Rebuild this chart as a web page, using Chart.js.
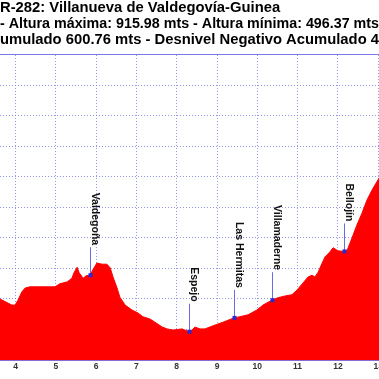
<!DOCTYPE html>
<html>
<head>
<meta charset="utf-8">
<script src="https://cdn.jsdelivr.net/npm/chart.js@4/dist/chart.umd.min.js"></script>
<style>
  html, body { margin: 0; padding: 0; background: #ffffff; overflow: hidden; }
  #wrap { position: relative; width: 379px; height: 379px; }
</style>
</head>
<body>
<div id="wrap"><canvas id="c"></canvas></div>
<script>
// ---- Data ----
const titleLines = [
  'R-282: Villanueva de Valdegovía-Guinea',
  '- Altura máxima: 915.98 mts - Altura mínima: 496.37 mts',
  'umulado 600.76 mts - Desnivel Negativo Acumulado 4'
];
const distanceKm = [3.615, 3.91, 3.99, 4.06, 4.16, 4.24, 4.36, 4.53, 4.86, 4.98,
  5.10, 5.28, 5.40, 5.45, 5.53, 5.58, 5.68, 5.75, 5.85, 5.92,
  6.02, 6.15, 6.27, 6.35, 6.42, 6.52, 6.59, 6.72, 6.89, 7.04,
  7.16, 7.34, 7.46, 7.64, 7.76, 7.91, 8.13, 8.31, 8.38, 8.45,
  8.58, 8.70, 8.90, 9.15, 9.42, 9.57, 9.77, 9.99, 10.14, 10.36,
  10.51, 10.69, 10.86, 10.99, 11.13, 11.26, 11.36, 11.43, 11.51, 11.61,
  11.68, 11.80, 11.88, 12.00, 12.15, 12.23, 12.35, 12.47, 12.60, 12.72,
  12.85, 13.02];
const altitudeM = [550, 540, 540, 548, 562, 568, 570, 570, 570, 570,
  575, 578, 584, 593, 602, 593, 584, 588, 589, 598,
  609, 607, 607, 601, 586, 568, 553, 540, 532, 527,
  521, 517, 512, 504, 501, 499, 501, 496.4, 499, 504,
  501, 501, 506, 512, 519, 521, 524, 532, 540, 548,
  552, 555, 557, 565, 576, 586, 589, 586, 594, 609,
  619, 627, 634, 629, 628, 630, 650, 671, 691, 712,
  729, 748];
const waypointNames = ['Valdegoña', 'Espejo', 'Las Hermitas', 'Villamaderne', 'Bellojín'];
const waypointKm    = [5.85, 8.31, 9.42, 10.36, 12.15];
const waypointAlt   = [589, 496.4, 519, 548, 628];
const xRange = [3.615, 13.02];
const yRange = [450, 950];
const yStep = 50;
const xStep = 1;

const points = distanceKm.map((d, i) => ({ x: d, y: altitudeM[i] }));

const waypointPlugin = {
  id: 'waypoints',
  afterDraw(chart) {
    const ctx = chart.ctx;
    const xs = chart.scales.x, ys = chart.scales.y;
    ctx.save();
    waypointNames.forEach((name, i) => {
      const px = Math.round(xs.getPixelForValue(waypointKm[i])) + 0.5;
      const py = ys.getPixelForValue(waypointAlt[i]);
      const lineTop = py - 28;
      ctx.strokeStyle = '#6a6ae6';
      ctx.lineWidth = 1;
      ctx.beginPath();
      ctx.moveTo(px, py);
      ctx.lineTo(px, lineTop);
      ctx.stroke();
      ctx.fillStyle = '#2a2ad0';
      ctx.fillRect(px - 2, py - 2, 4, 4);
      ctx.save();
      ctx.translate(px + 1, lineTop - 2);
      ctx.rotate(Math.PI / 2);
      ctx.font = 'bold 10.5px "Liberation Sans", Arial, sans-serif';
      ctx.fillStyle = '#111111';
      ctx.textAlign = 'right';
      ctx.textBaseline = 'alphabetic';
      ctx.fillText(name, 0, 0);
      ctx.restore();
    });
    ctx.restore();
  }
};

const gridColor = 'rgba(120,120,225,0.8)';

new Chart(document.getElementById('c'), {
  type: 'line',
  data: {
    datasets: [{
      data: points,
      borderColor: '#ff0000',
      backgroundColor: '#ff0000',
      borderWidth: 1,
      pointRadius: 0,
      fill: 'start',
      tension: 0
    }]
  },
  options: {
    responsive: true,
    maintainAspectRatio: false,
    animation: false,
    events: [],
    layout: { padding: 0 },
    plugins: {
      legend: { display: false },
      tooltip: { enabled: false },
      title: {
        display: true,
        text: titleLines,
        align: 'start',
        color: '#000000',
        font: { family: '"Liberation Sans", Arial, sans-serif', size: 14.8, weight: 'bold', lineHeight: 1.08 },
        padding: { top: 0, bottom: 7 }
      }
    },
    scales: {
      x: {
        type: 'linear',
        min: xRange[0],
        max: xRange[1],
        z: 1,
        grid: { display: true, color: gridColor, lineWidth: 1, drawTicks: false },
        border: { display: true, color: '#8a6ad0', width: 1, dash: [1, 2] },
        ticks: {
          stepSize: xStep,
          includeBounds: false,
          autoSkip: false,
          maxRotation: 0,
          padding: 2,
          color: '#333333',
          font: { family: '"Liberation Sans", Arial, sans-serif', size: 8.5, weight: 'bold' },
          callback: v => Number.isInteger(v) ? String(v) : ''
        },
        afterFit(s) { s.height = 19; s.paddingLeft = 0; s.paddingRight = 0; }
      },
      xTop: {
        type: 'linear',
        position: 'top',
        min: xRange[0],
        max: xRange[1],
        grid: { display: false, drawTicks: false },
        border: { display: true, color: '#7a7ae6', width: 1 },
        ticks: { display: false },
        afterFit(s) { s.height = 0; s.paddingLeft = 0; s.paddingRight = 0; }
      },
      y: {
        type: 'linear',
        min: yRange[0],
        max: yRange[1],
        z: 1,
        grid: { display: true, color: gridColor, lineWidth: 1, drawTicks: false },
        border: { display: false, dash: [1, 2] },
        ticks: { display: false, stepSize: yStep },
        afterFit(s) { s.width = 0; s.paddingTop = 0; s.paddingBottom = 0; }
      }
    }
  },
  plugins: [waypointPlugin]
});
</script>
</body>
</html>
